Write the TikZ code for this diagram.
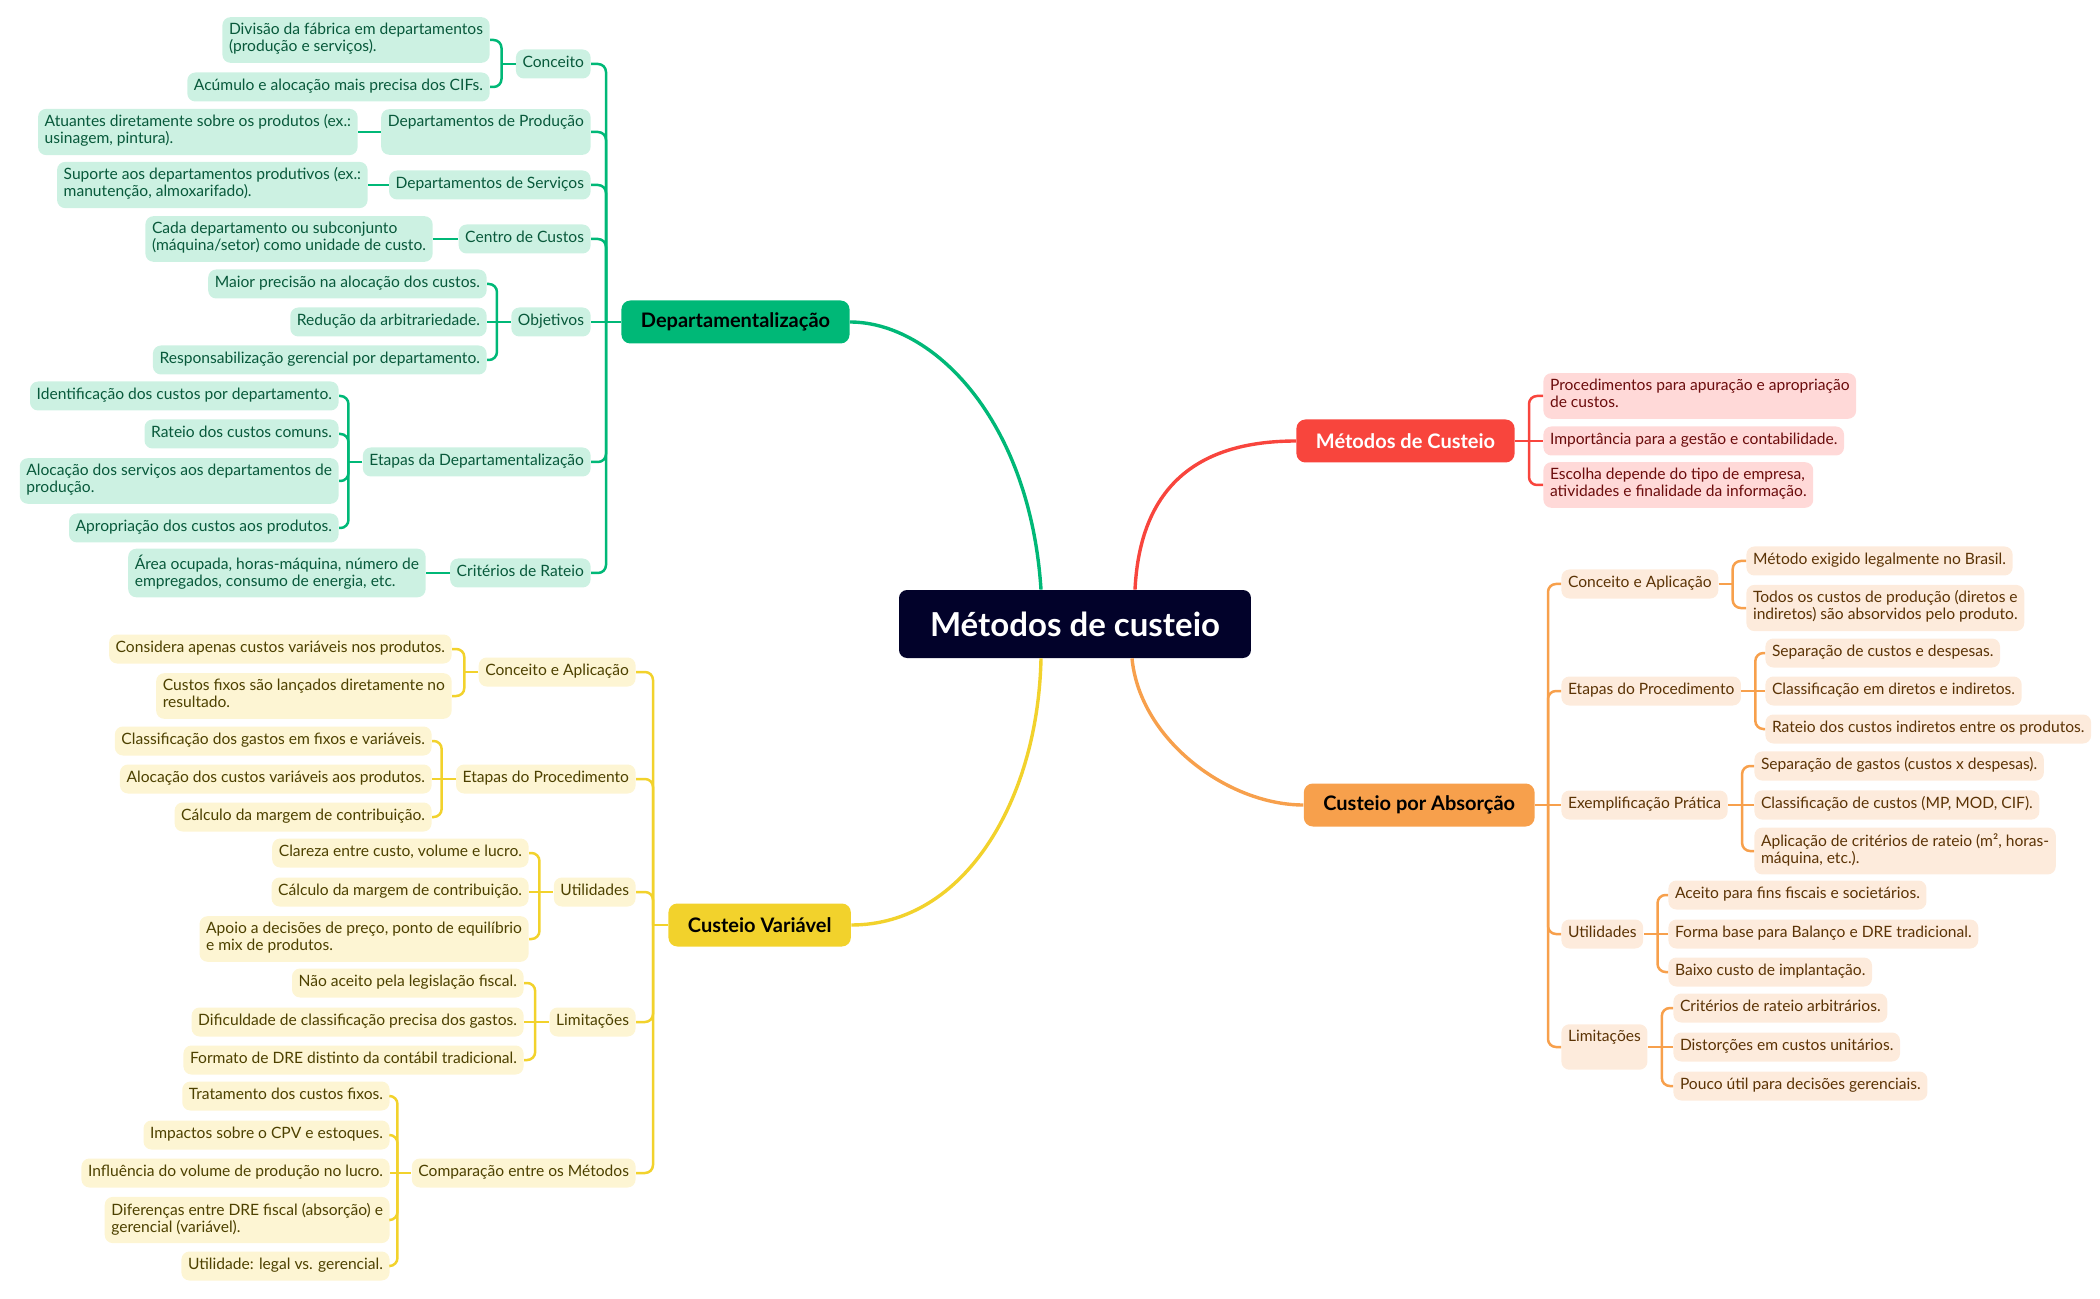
\documentclass[tikz,border=0pt]{standalone}
\usepackage{fontspec}
\setmainfont{Lato}
\usetikzlibrary{positioning,calc}

\definecolor{gMain}{HTML}{00B877}
\definecolor{gLeaf}{HTML}{CCF1E2}
\definecolor{gText}{HTML}{08593B}
\definecolor{rMain}{HTML}{F8453D}
\definecolor{rLeaf}{HTML}{FFD9D8}
\definecolor{rText}{HTML}{6B0C0C}
\definecolor{oMain}{HTML}{F7A04C}
\definecolor{oLeaf}{HTML}{FDEBDC}
\definecolor{oText}{HTML}{5B3305}
\definecolor{yMain}{HTML}{F2D22C}
\definecolor{yLeaf}{HTML}{FDF5D3}
\definecolor{yText}{HTML}{4D4100}
\definecolor{rootC}{HTML}{02022A}

\newcommand{\leaffont}{\fontsize{7.8}{8.5}\selectfont}
\newcommand{\branchfont}{\fontsize{10}{12}\selectfont\bfseries}
\newcommand{\rootfont}{\fontsize{16.5}{20}\selectfont\bfseries}

\begin{document}
\begin{tikzpicture}[
x=0.5pt,y=-0.5pt,
leaf/.style={
  rounded corners=4pt,
  inner xsep=3.3pt,
  inner ysep=3pt,
  align=left,
  font=\leaffont,
  execute at begin node=\strut,
  execute at end node=\strut
},
gleaf/.style={leaf,fill=gLeaf,text=gText},
rleaf/.style={leaf,fill=rLeaf,text=rText},
oleaf/.style={leaf,fill=oLeaf,text=oText},
yleaf/.style={leaf,fill=yLeaf,text=yText},
branch/.style={
  rounded corners=4.5pt,
  minimum height=21.5pt,
  inner xsep=9.75pt,
  font=\branchfont
},
rootbox/.style={
  rounded corners=4pt,
  fill=rootC,
  text=white,
  minimum height=34pt,
  inner xsep=15.5pt,
  font=\rootfont
},
gline/.style={draw=gMain,line width=1.25pt,rounded corners=4pt},
rline/.style={draw=rMain,line width=1.25pt,rounded corners=4pt},
oline/.style={draw=oMain,line width=1.25pt,rounded corners=4pt},
yline/.style={draw=yMain,line width=1.25pt,rounded corners=4pt},
curve/.style={line width=1.7pt}
]
\useasboundingbox (0,0) rectangle (2100,1299);

\node[rootbox] (root) at (1075,624) {Métodos de custeio};

% Departamentalizacao
\node[branch,fill=gMain,anchor=west] (dep) at (621,322) {Departamentalização};
\node[gleaf,anchor=east] (g1) at (591,64) {Conceito};
\node[gleaf,anchor=east] (g11) at (490,40) {Divisão da fábrica em departamentos\\(produção e serviços).};
\node[gleaf,anchor=east] (g12) at (490,87) {Acúmulo e alocação mais precisa dos CIFs.};
\node[gleaf,anchor=east] (g2) at (591,132) {Departamentos de Produção\\\mbox{}};
\node[gleaf,anchor=east] (g21) at (358,132) {Atuantes diretamente sobre os produtos (ex.:\\usinagem, pintura).};
\node[gleaf,anchor=east] (g3) at (591,185) {Departamentos de Serviços};
\node[gleaf,anchor=east] (g31) at (368,185) {Suporte aos departamentos produtivos (ex.:\\manutenção, almoxarifado).};
\node[gleaf,anchor=east] (g4) at (591,239) {Centro de Custos};
\node[gleaf,anchor=east] (g41) at (433,239) {Cada departamento ou subconjunto\\(máquina/setor) como unidade de custo.};
\node[gleaf,anchor=east] (g5) at (591,322) {Objetivos};
\node[gleaf,anchor=east] (g51) at (487,284) {Maior precisão na alocação dos custos.};
\node[gleaf,anchor=east] (g52) at (487,322) {Redução da arbitrariedade.};
\node[gleaf,anchor=east] (g53) at (487,360) {Responsabilização gerencial por departamento.};
\node[gleaf,anchor=east] (g6) at (591,462) {Etapas da Departamentalização};
\node[gleaf,anchor=east] (g61) at (339,396) {Identificação dos custos por departamento.};
\node[gleaf,anchor=east] (g62) at (339,434) {Rateio dos custos comuns.};
\node[gleaf,anchor=east] (g63) at (339,481) {Alocação dos serviços aos departamentos de\\produção.};
\node[gleaf,anchor=east] (g64) at (339,528) {Apropriação dos custos aos produtos.};
\node[gleaf,anchor=east] (g7) at (591,573) {Critérios de Rateio};
\node[gleaf,anchor=east] (g71) at (426,573) {Área ocupada, horas-máquina, número de\\empregados, consumo de energia, etc.};

% Custeio Variavel
\node[branch,fill=yMain,anchor=west] (cv) at (668,925) {Custeio Variável};
\node[yleaf,anchor=east] (y1) at (636,672) {Conceito e Aplicação};
\node[yleaf,anchor=east] (y11) at (452,649) {Considera apenas custos variáveis nos produtos.};
\node[yleaf,anchor=east] (y12) at (452,696) {Custos fixos são lançados diretamente no\\resultado.};
\node[yleaf,anchor=east] (y2) at (636,779) {Etapas do Procedimento};
\node[yleaf,anchor=east] (y21) at (432,741) {Classificação dos gastos em fixos e variáveis.};
\node[yleaf,anchor=east] (y22) at (432,779) {Alocação dos custos variáveis aos produtos.};
\node[yleaf,anchor=east] (y23) at (432,817) {Cálculo da margem de contribuição.};
\node[yleaf,anchor=east] (y3) at (636,892) {Utilidades};
\node[yleaf,anchor=east] (y31) at (529,853) {Clareza entre custo, volume e lucro.};
\node[yleaf,anchor=east] (y32) at (529,892) {Cálculo da margem de contribuição.};
\node[yleaf,anchor=east] (y33) at (529,939) {Apoio a decisões de preço, ponto de equilíbrio\\e mix de produtos.};
\node[yleaf,anchor=east] (y4) at (636,1022) {Limitações};
\node[yleaf,anchor=east] (y41) at (524,983) {Não aceito pela legislação fiscal.};
\node[yleaf,anchor=east] (y42) at (524,1022) {Dificuldade de classificação precisa dos gastos.};
\node[yleaf,anchor=east] (y43) at (524,1060) {Formato de DRE distinto da contábil tradicional.};
\node[yleaf,anchor=east] (y5) at (636,1173) {Comparação entre os Métodos};
\node[yleaf,anchor=east] (y51) at (390,1096) {Tratamento dos custos fixos.};
\node[yleaf,anchor=east] (y52) at (390,1135) {Impactos sobre o CPV e estoques.};
\node[yleaf,anchor=east] (y53) at (390,1173) {Influência do volume de produção no lucro.};
\node[yleaf,anchor=east] (y54) at (390,1220) {Diferenças entre DRE fiscal (absorção) e\\gerencial (variável).};
\node[yleaf,anchor=east] (y55) at (390,1266) {Utilidade: legal vs. gerencial.};

% Metodos de Custeio
\node[branch,fill=rMain,text=white,anchor=east] (mc) at (1515,441) {Métodos de Custeio};
\node[rleaf,anchor=west] (r1) at (1543,396) {Procedimentos para apuração e apropriação\\de custos.};
\node[rleaf,anchor=west] (r2) at (1543,441) {Importância para a gestão e contabilidade.};
\node[rleaf,anchor=west] (r3) at (1543,485) {Escolha depende do tipo de empresa,\\atividades e finalidade da informação.};

% Custeio por Absorcao
\node[branch,fill=oMain,anchor=east] (ab) at (1535,805) {Custeio por Absorção};
\node[oleaf,anchor=west] (o1) at (1561,584) {Conceito e Aplicação};
\node[oleaf,anchor=west] (o11) at (1746,561) {Método exigido legalmente no Brasil.};
\node[oleaf,anchor=west] (o12) at (1746,608) {Todos os custos de produção (diretos e\\indiretos) são absorvidos pelo produto.};
\node[oleaf,anchor=west] (o2) at (1561,691) {Etapas do Procedimento};
\node[oleaf,anchor=west] (o21) at (1765,653) {Separação de custos e despesas.};
\node[oleaf,anchor=west] (o22) at (1765,691) {Classificação em diretos e indiretos.};
\node[oleaf,anchor=west] (o23) at (1765,729) {Rateio dos custos indiretos entre os produtos.};
\node[oleaf,anchor=west] (o3) at (1561,805) {Exemplificação Prática};
\node[oleaf,anchor=west] (o31) at (1754,766) {Separação de gastos (custos x despesas).};
\node[oleaf,anchor=west] (o32) at (1754,805) {Classificação de custos (MP, MOD, CIF).};
\node[oleaf,anchor=west] (o33) at (1754,851) {Aplicação de critérios de rateio (m², horas-\\máquina, etc.).};
\node[oleaf,anchor=west] (o4) at (1561,934) {Utilidades};
\node[oleaf,anchor=west] (o41) at (1668,895) {Aceito para fins fiscais e societários.};
\node[oleaf,anchor=west] (o42) at (1668,934) {Forma base para Balanço e DRE tradicional.};
\node[oleaf,anchor=west] (o43) at (1668,972) {Baixo custo de implantação.};
\node[oleaf,anchor=west] (o5) at (1561,1047) {Limitações\\\mbox{}};
\node[oleaf,anchor=west] (o51) at (1673,1008) {Critérios de rateio arbitrários.};
\node[oleaf,anchor=west] (o52) at (1673,1047) {Distorções em custos unitários.};
\node[oleaf,anchor=west] (o53) at (1673,1086) {Pouco útil para decisões gerenciais.};

% curves from the root
\coordinate (rootNW) at ($(root.north)+(-34,0)$);
\coordinate (rootNE) at ($(root.north)+(60,0)$);
\coordinate (rootSW) at ($(root.south)+(-34,0)$);
\coordinate (rootSE) at ($(root.south)+(57,0)$);
\draw[curve,gMain] (dep.east) .. controls +(83,0) and +(-11,-170) .. (rootNW);
\draw[curve,rMain] (rootNE) .. controls +(5,-100) and +(-102,0) .. (mc.west);
\draw[curve,oMain] (rootSE) .. controls +(8,82) and +(-75,0) .. (ab.west);
\draw[curve,yMain] (rootSW) .. controls +(-3,142) and +(113,0) .. (cv.east);

% trunks
\foreach \c in {g1,g2,g3,g4,g6,g7}
  \draw[gline] (\c.east) -| ($(dep.west)+(-15,0)$);
\draw[gline] (g5.east) -- (dep.west);
\foreach \c in {y1,y2,y3,y4,y5}
  \draw[yline] (\c.east) -| ($(cv.west)+(-15,0)$);
\draw[yline] (cv.west) -- ++(-15,0);
\foreach \c in {r1,r3}
  \draw[rline] (\c.west) -| ($(mc.east)+(14,0)$);
\draw[rline] (mc.east) -- (r2.west);
\foreach \c in {o1,o2,o4,o5}
  \draw[oline] (\c.west) -| ($(ab.east)+(13,0)$);
\draw[oline] (ab.east) -- (o3.west);

% brackets
\foreach \p/\c in {g1/g11,g1/g12,g5/g51,g5/g53,g6/g61,g6/g62,g6/g63,g6/g64}
  \draw[gline] (\c.east) -| ($(\p.west)+(-14,0)$);
\foreach \p in {g1,g6}
  \draw[gline] (\p.west) -- ++(-14,0);
\foreach \p/\c in {g2/g21,g3/g31,g4/g41,g5/g52,g7/g71}
  \draw[gline] (\c.east) -- (\p.west);
\foreach \p/\c in {y1/y11,y1/y12,y2/y21,y2/y23,y3/y31,y3/y33,
    y4/y41,y4/y43,y5/y51,y5/y52,y5/y54,y5/y55}
  \draw[yline] (\c.east) -| ($(\p.west)+(-14,0)$);
\draw[yline] (y1.west) -- ++(-14,0);
\foreach \p/\c in {y2/y22,y3/y32,y4/y42,y5/y53}
  \draw[yline] (\c.east) -- (\p.west);
\foreach \p/\c in {o1/o11,o1/o12,o2/o21,o2/o23,o3/o31,o3/o33,
    o4/o41,o4/o43,o5/o51,o5/o53}
  \draw[oline] (\c.west) -| ($(\p.east)+(14,0)$);
\draw[oline] (o1.east) -- ++(14,0);
\foreach \p/\c in {o2/o22,o3/o32,o4/o42,o5/o52}
  \draw[oline] (\c.west) -- (\p.east);
\end{tikzpicture}
\end{document}
